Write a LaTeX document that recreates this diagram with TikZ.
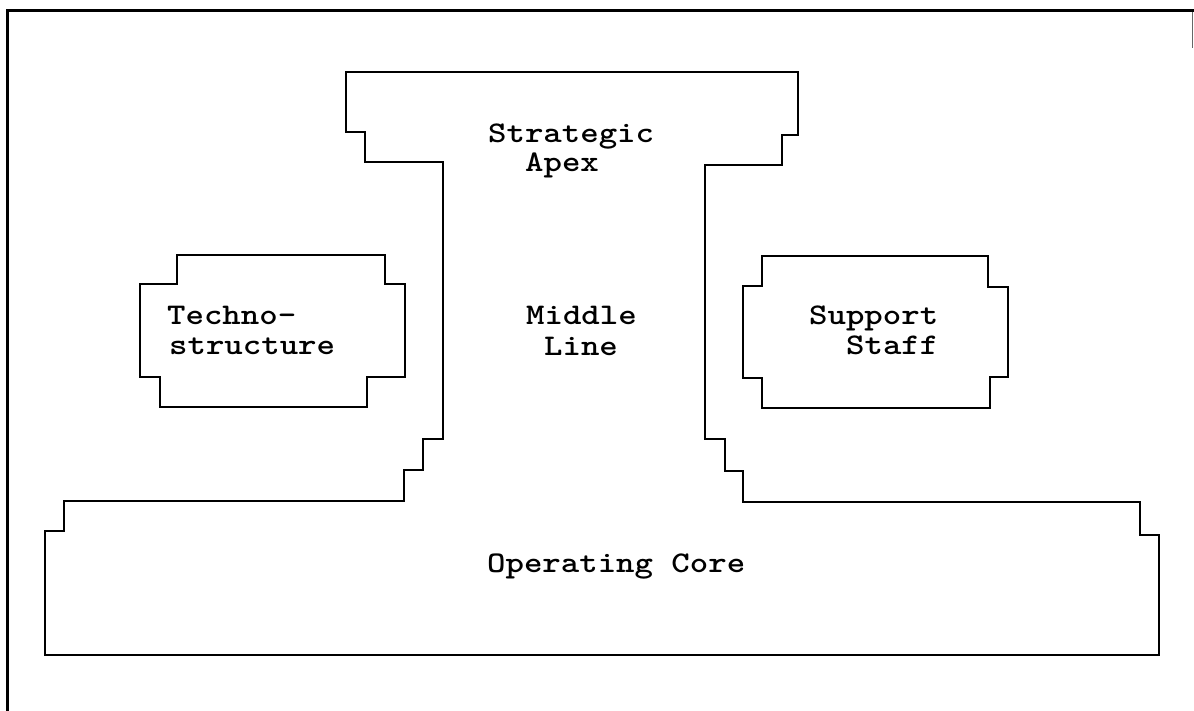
\documentclass[tikz,border=0pt]{standalone}
\usepackage{graphicx}
\newcommand{\typed}[1]{\scalebox{1.17}[1]{#1}}
\begin{document}
\begin{tikzpicture}[x=1pt,y=-1pt,
  outline/.style={draw=black,line width=2pt,line join=miter},
  frameline/.style={draw=black,line width=3pt},
  lbl/.style={inner sep=0pt,anchor=base west,font=\fontsize{30}{30}\selectfont\ttfamily\bfseries}]
\useasboundingbox (0,0) rectangle (1194,711);

% page frame
\draw[frameline] (7,711) -- (7,11) -- (1194,11);
\draw[draw=black!60,line width=1pt] (1192,12) -- (1192,48);

% strategic apex, middle line and operating core as one outline
\draw[outline] (346,72) -- (798,72) -- (798,135) -- (782,135) -- (782,165)
  -- (705,165) -- (705,439) -- (725,439) -- (725,471) -- (743,471)
  -- (743,502) -- (1140,502) -- (1140,535) -- (1159,535) -- (1159,655)
  -- (45,655) -- (45,531) -- (64,531) -- (64,501) -- (404,501)
  -- (404,470) -- (423,470) -- (423,439) -- (443,439) -- (443,162)
  -- (365,162) -- (365,132) -- (346,132) -- cycle;

% technostructure
\draw[outline] (177,255) -- (385,255) -- (385,284) -- (405,284) -- (405,377)
  -- (367,377) -- (367,407) -- (160,407) -- (160,377) -- (140,377)
  -- (140,284) -- (177,284) -- cycle;

% support staff
\draw[outline] (762,256) -- (988,256) -- (988,287) -- (1008,287) -- (1008,377)
  -- (990,377) -- (990,408) -- (762,408) -- (762,378) -- (743,378)
  -- (743,286) -- (762,286) -- cycle;

% labels
\node[lbl] (apex1) at (488,143) {\typed{Strategic}};
\node[lbl] (apex2) at (525,172) {\typed{Apex}};
\node[lbl] (mid1) at (526,325) {\typed{Middle}};
\node[lbl] (mid2) at (544,355) {\typed{Line}};
\node[lbl] (tech1) at (167,324) {\typed{Techno-}};
\node[lbl] (tech2) at (169,354) {\typed{structure}};
\node[lbl] (sup1) at (809,324) {\typed{Support}};
\node[lbl] (sup2) at (846,354) {\typed{Staff}};
\node[lbl] (core) at (487,572) {\typed{Operating Core}};
\end{tikzpicture}
\end{document}
